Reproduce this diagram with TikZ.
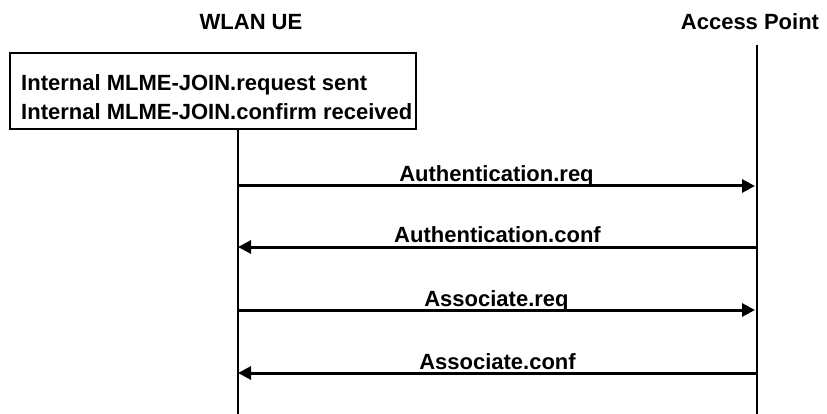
\documentclass[tikz,border=0pt]{standalone}
\usepackage{fontspec}
\setmainfont{Liberation Sans}
\usetikzlibrary{arrows.meta}
\tikzset{
  every node/.style={font=\fontsize{22}{29}\selectfont\bfseries},
  lifeline/.style={line width=1.5pt},
  msg/.style={line width=3pt, -{Triangle[length=13pt,width=13pt]}},
  msglabel/.style={midway, anchor=base, yshift=4pt, inner sep=0pt}
}
\begin{document}
\begin{tikzpicture}[x=1pt, y=-1pt]
  \useasboundingbox (0,0) rectangle (827,414);

  % 两端实体的名称
  \node (ueName) at (251,22) {WLAN UE};
  \node (apName) at (750,22) {Access Point};

  % 内部 JOIN 过程的方框
  \node[draw, line width=1.3pt, minimum width=406pt, minimum height=76pt, inner sep=0pt] (joinBox) at (213,91) {};
  \node[anchor=north west, align=left, inner sep=0pt] (joinText) at (21,74)
    {Internal MLME-JOIN.request sent\\Internal MLME-JOIN.confirm received};

  % 生命线的端点
  \coordinate (ueTop) at (238,129);
  \coordinate (ueEnd) at (238,414);
  \coordinate (apTop) at (757,45);
  \coordinate (apEnd) at (757,414);

  \draw[lifeline] (ueTop) -- (ueEnd);
  \draw[lifeline] (apTop) -- (apEnd);

  % 每条消息在两条生命线上的位置
  \coordinate (ue1) at (238,186);  \coordinate (ap1) at (755,186);
  \coordinate (ue2) at (238,247);  \coordinate (ap2) at (757,247);
  \coordinate (ue3) at (238,310);  \coordinate (ap3) at (755,310);
  \coordinate (ue4) at (238,373);  \coordinate (ap4) at (757,373);

  % 消息箭头
  \draw[msg] (ue1) -- (ap1) node[msglabel] (authReq) {Authentication.req};
  \draw[msg] (ap2) -- (ue2) node[msglabel] (authConf) {Authentication.conf};
  \draw[msg] (ue3) -- (ap3) node[msglabel] (assocReq) {Associate.req};
  \draw[msg] (ap4) -- (ue4) node[msglabel] (assocConf) {Associate.conf};

\end{tikzpicture}
\end{document}
